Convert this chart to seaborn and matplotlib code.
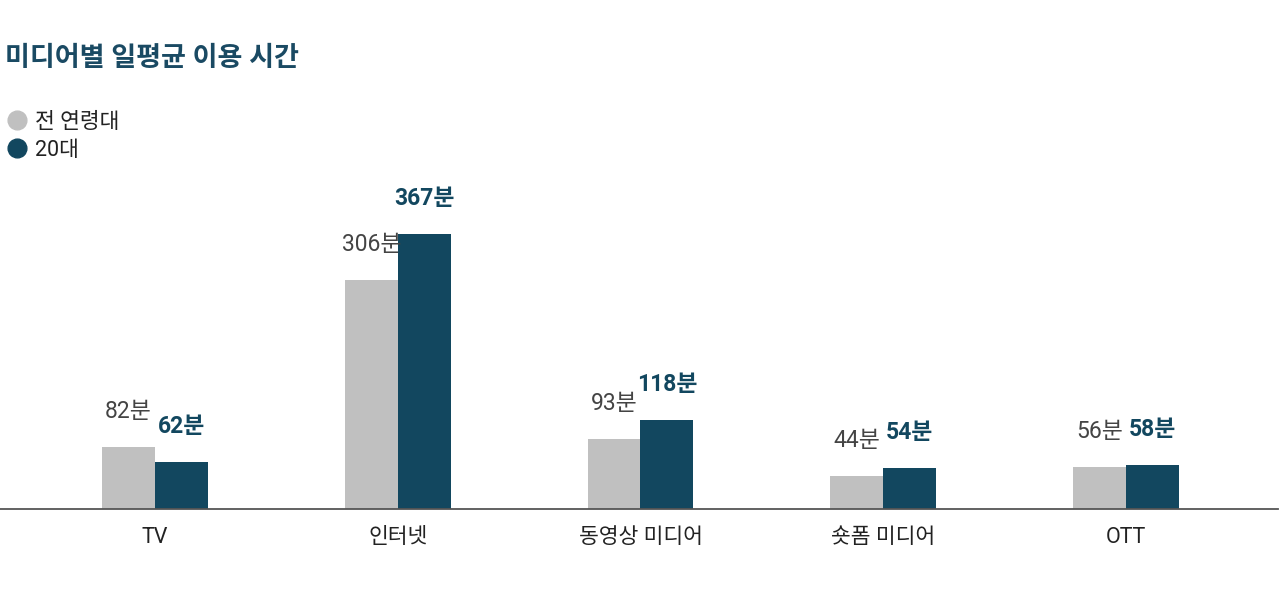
import pandas as pd
import matplotlib
matplotlib.use('Agg')
from matplotlib import pyplot as plt
from matplotlib.lines import Line2D
import seaborn as sns

categories = ['TV', '인터넷', '동영상 미디어', '숏폼 미디어', 'OTT']
series = ['전 연령대', '20대']
all_ages = [82, 306, 93, 44, 56]
twenties = [62, 367, 118, 54, 58]
colors = ['#c0c0c0', '#12475f']
title = '미디어별 일평균 이용 시간'

df = pd.DataFrame({
    'media': categories * 2,
    'group': [series[0]] * len(categories) + [series[1]] * len(categories),
    'minutes': all_ages + twenties,
})

sns.set_style('white')
plt.rcParams['font.family'] = ['Roboto', 'Noto Sans CJK KR', 'DejaVu Sans']

fig = plt.figure(figsize=(12.8, 5.94), dpi=100)
ax = fig.add_axes([0, 0.1431, 0.9984, 0.5707])

sns.barplot(data=df, x='media', y='minutes', hue='group', palette=colors,
            width=0.436, saturation=1, linewidth=0, ax=ax, legend=False)

ax.set_xlim(-0.6385, 4.626)
ax.set_ylim(0, 452)
ax.set_xlabel('')
ax.set_ylabel('')
ax.set_yticks([])
for s in ['top', 'right', 'left']:
    ax.spines[s].set_visible(False)
ax.spines['bottom'].set_color('#555555')
ax.spines['bottom'].set_linewidth(1.3)
ax.tick_params(axis='x', length=0, pad=13, labelsize=15.5, labelcolor='#222222')

# value labels
styles = [dict(color='#444444', fontweight='normal'), dict(color='#12475f', fontweight='bold')]
for cont, st in zip(ax.containers, styles):
    for bar in cont:
        h = bar.get_height()
        ax.annotate(f'{h:.0f}분', (bar.get_x() + bar.get_width() / 2, h),
                    xytext=(0, 29), textcoords='offset pixels',
                    ha='center', va='baseline', fontsize=16.5, **st)

fig.text(0.004, 0.902, title, fontsize=19.5, fontweight='heavy',
         color='#1a4a63', va='center', ha='left')

handles = [Line2D([], [], marker='o', linestyle='', markersize=13.5,
                  markerfacecolor=c, markeredgecolor=c) for c in colors]
fig.legend(handles, series, loc='upper left', bbox_to_anchor=(0.003, 0.812),
           frameon=False, fontsize=15.5, handletextpad=0.25, labelspacing=0.34,
           handlelength=1.2, borderpad=0, borderaxespad=0, labelcolor='#222222')

fig.savefig('out.png', dpi=100, facecolor='white')
